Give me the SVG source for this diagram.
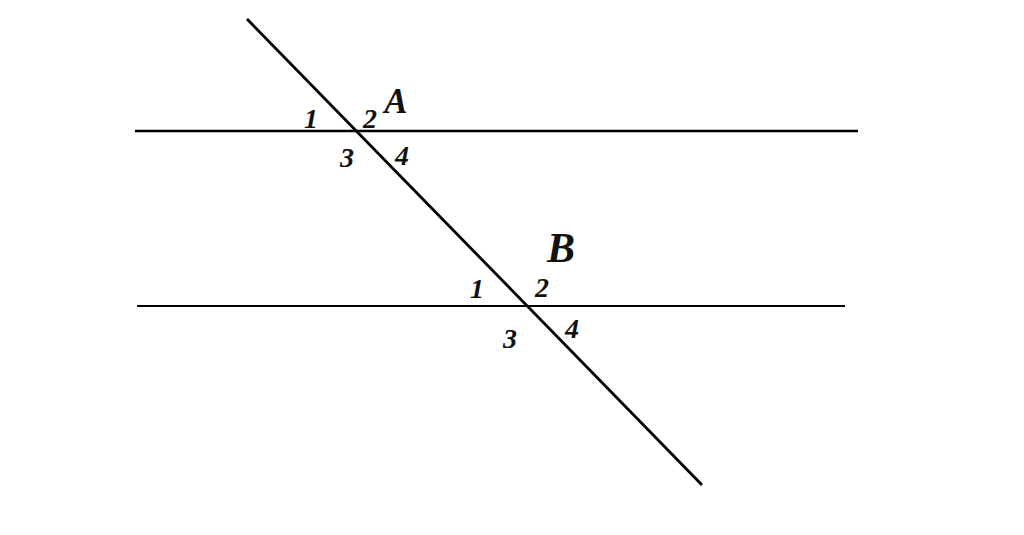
<svg xmlns="http://www.w3.org/2000/svg" width="1024" height="535" viewBox="0 0 1024 535">
<style>
.l{stroke:#000;fill:none}
text{font-family:"Liberation Serif",serif;font-style:italic;font-weight:bold;fill:#111;text-anchor:middle}
.n{font-size:28px}
.a{font-size:35px}
.b{font-size:42px}
</style>
<rect width="1024" height="535" fill="#fff"/>
<g id="connectors">
<line class="l" x1="135" y1="131" x2="858" y2="131" stroke-width="2.6"/>
<line class="l" x1="137" y1="306" x2="845" y2="306" stroke-width="1.8" stroke="#333"/>
<line class="l" x1="247" y1="19" x2="702" y2="485" stroke-width="2.8"/>
</g>
<g id="A">
<text class="a" x="396" y="113">A</text>
<text class="n" x="311" y="128">1</text>
<text class="n" x="370" y="128">2</text>
<text class="n" x="347" y="167">3</text>
<text class="n" x="402" y="165">4</text>
</g>
<g id="B">
<text class="b" x="561" y="262">B</text>
<text class="n" x="477" y="298">1</text>
<text class="n" x="542" y="297">2</text>
<text class="n" x="510" y="348">3</text>
<text class="n" x="572" y="338">4</text>
</g>
</svg>
